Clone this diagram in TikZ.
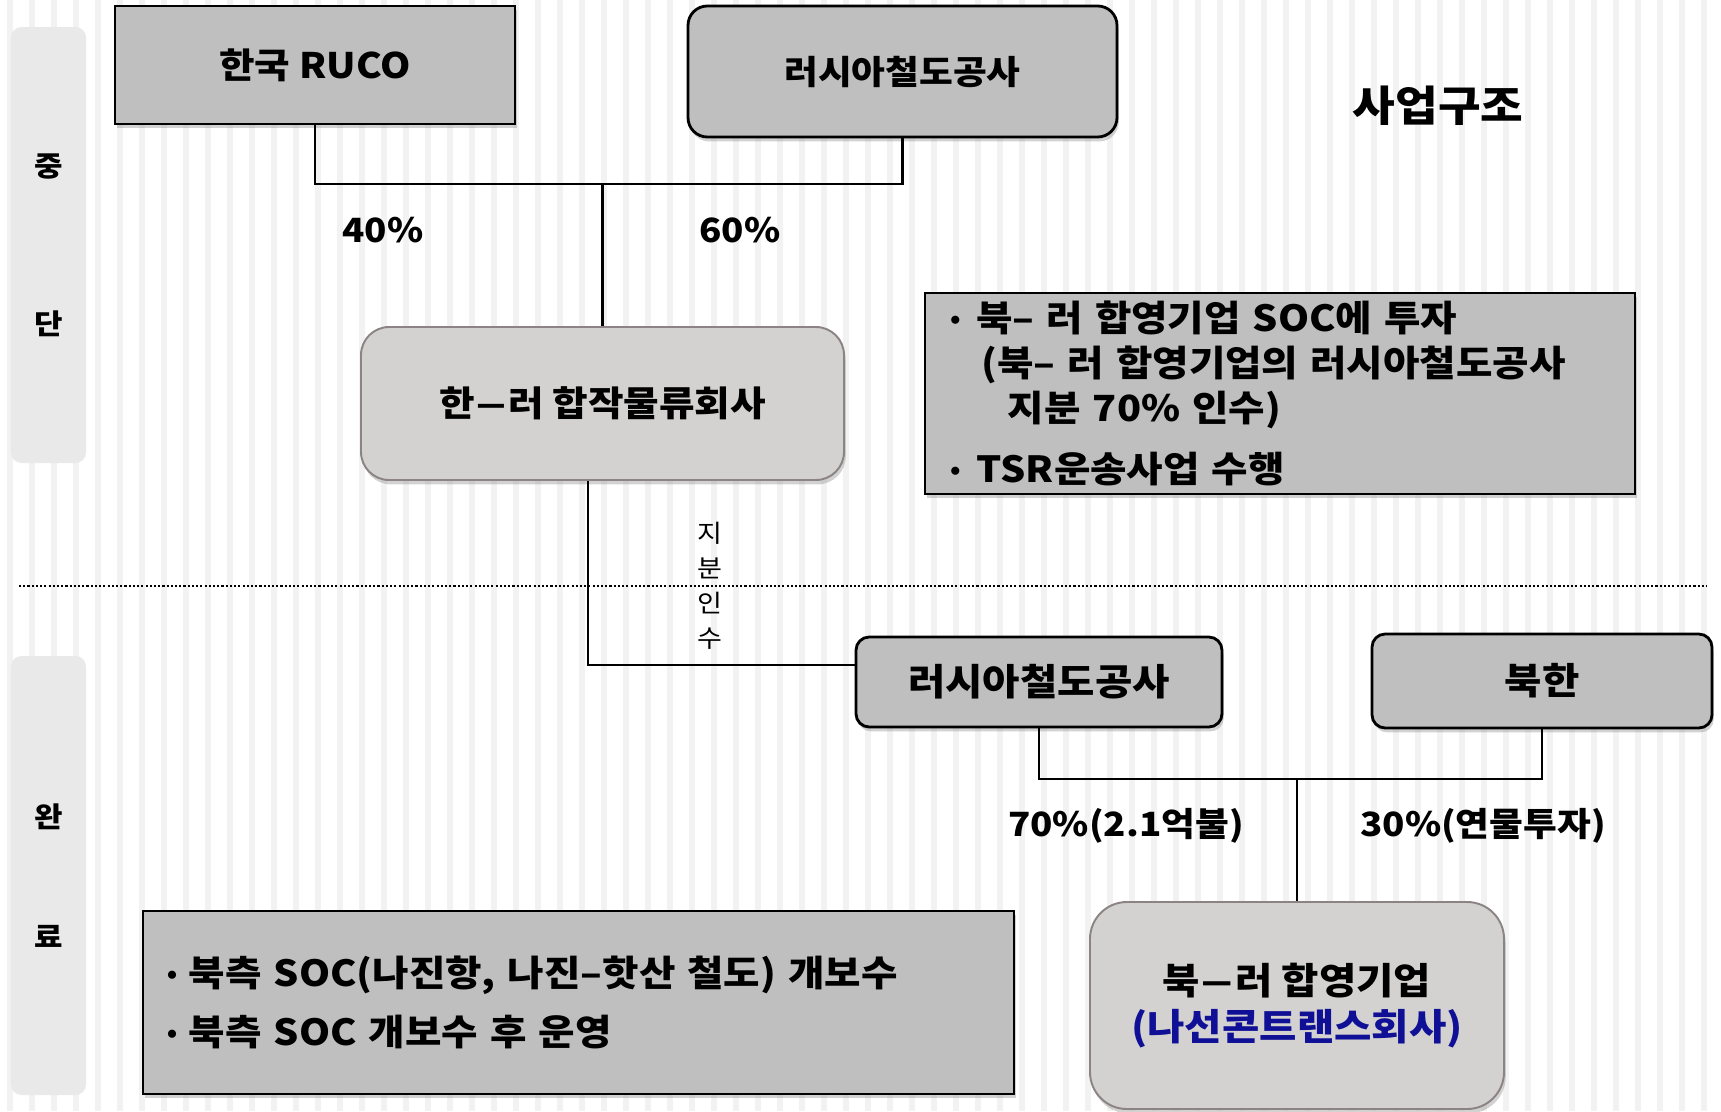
\documentclass[tikz,border=0pt]{standalone}
\usepackage{fontspec}
\setmainfont{Noto Sans CJK KR}[FakeStretch=1.1]
\usepackage{tikz}
\usetikzlibrary{positioning,shadows}

\definecolor{stripegray}{RGB}{242,242,242}
\definecolor{tabgray}{RGB}{233,233,233}
\definecolor{boxgray}{RGB}{191,191,191}
\definecolor{palegray}{RGB}{212,209,209}
\definecolor{paleedge}{RGB}{140,132,132}
\definecolor{navytext}{RGB}{16,16,150}

\newcommand{\lblfont}[1]{\fontsize{#1}{25.6}\selectfont\bfseries}
\newcommand{\dotbul}[1]{\makebox[#1][l]{\raisebox{3.5pt}{\fontsize{12}{12}\selectfont$\bullet$}}}
\newcommand{\wdash}{\kern0.5pt\scalebox{1.5}[1]{–}\kern0.5pt}

\begin{document}
\begin{tikzpicture}[scale=0.2]
    \tikzstyle{every node}+=[inner sep=0pt]
    \tikzstyle{darkbox}=[draw=black, line width=1.6pt, fill=boxgray, font=\lblfont{20}, drop shadow={shadow xshift=1pt, shadow yshift=-2.5pt, opacity=0.35}]
    \tikzstyle{roundbox}=[darkbox, rounded corners=11pt]
    \tikzstyle{palebox}=[draw=paleedge, line width=1.1pt, fill=palegray, font=\lblfont{20}, drop shadow={shadow xshift=1pt, shadow yshift=-2.5pt, opacity=0.35}]
    \tikzstyle{tabbox}=[fill=tabgray, rounded corners=6pt, align=center, font=\fontsize{16}{21}\selectfont\bfseries]
    \tikzstyle{pct}=[font=\fontsize{19}{24}\selectfont\bfseries]
    \tikzstyle{link}=[black, line width=1.5pt]
    % background stripes
    \fill [white] (0,0) rectangle (172.1,-111.1);
    \foreach \k in {0,...,77}
        \fill [stripegray] ({0.73+2.2*\k},0) rectangle ++(0.6,-111.1);
    \useasboundingbox (0,0) rectangle (172.1,-111.1);
    % stage tabs
    \node [tabbox, minimum width=1.5cm, minimum height=8.72cm] (tabmid) at (4.85,-24.5) {중\\[69pt]단};
    \node [tabbox, minimum width=1.5cm, minimum height=8.78cm] (tabdone) at (4.85,-87.55) {완\\[47pt]료};
    % middle stage
    \node [darkbox, minimum width=8cm, minimum height=2.36cm] (ruco) at (31.5,-6.5) {한국 RUCO};
    \node [roundbox, font=\lblfont{19}, minimum width=8.58cm, minimum height=2.62cm] (rzd) at (90.25,-7.15) {러시아철도공사};
    \node [font=\fontsize{24}{28}\selectfont\bfseries] (title) at (143.8,-10.6) {사업구조};
    \node [palebox, rounded corners=16pt, minimum width=9.66cm, minimum height=3.06cm] (hanru) at (60.25,-40.35) {한\wdash 러 합작물류회사};
    \coordinate (j1) at (60.25,-18.4);
    \draw [link] (ruco.south) |- (j1) -| (rzd.south);
    \draw [link] (j1) -- (hanru.north);
    \node [pct] (p40) at (38.3,-23) {40\%};
    \node [pct] (p60) at (74,-23) {60\%};
    \node [darkbox, font=\lblfont{20.5}, minimum width=14.2cm, minimum height=4.02cm, text width=13.2cm, align=left] (invest) at (128,-39.35) {\dotbul{15pt}북– 러 합영기업 SOC에 투자\\
        \hspace*{18pt}(북– 러 합영기업의 러시아철도공사\\
        \hspace*{33pt}지분 70\% 인수)\\[9pt]
        \dotbul{15pt}TSR운송사업 수행};
    % separator
    \coordinate (sepL) at (1.9,-58.6);
    \coordinate (sepR) at (170.7,-58.6);
    \draw [black, line width=1.2pt, dash pattern=on 1.2pt off 1.2pt] (sepL) -- (sepR);
    % completed stage
    \node [roundbox, font=\lblfont{21}, rounded corners=7.5pt, minimum width=7.32cm, minimum height=1.8cm] (rzdb) at (103.9,-68.2) {러시아철도공사};
    \node [roundbox, font=\lblfont{21}, rounded corners=7.5pt, minimum width=6.8cm, minimum height=1.88cm] (nk) at (154.2,-68.1) {북한};
    \coordinate (k1) at (58.8,-66.5);
    \draw [link] (hanru.south -| k1) -- (k1) -- (k1 -| rzdb.west);
    \node [font=\fontsize{14}{20}\selectfont, align=center] (share) at (71,-58.6) {지\\분\\인\\수};
    \node [palebox, font=\lblfont{21}, rounded corners=21pt, minimum width=8.28cm, minimum height=4.14cm, align=center] (jv) at (129.7,-100.55) {북\wdash 러 합영기업\\[1pt]{\color{navytext}(나선콘트랜스회사)}};
    \coordinate (j2) at (129.7,-77.9);
    \draw [link] (rzdb.south) |- (j2) -| (nk.south);
    \draw [link] (j2) -- (jv.north);
    \node [pct] (p70) at (112.6,-82.6) {70\%(2.1억불)};
    \node [pct] (p30) at (148.3,-82.6) {30\%(연물투자)};
    \node [darkbox, font=\lblfont{20.5}, minimum width=17.42cm, minimum height=3.66cm, text width=16.46cm, align=left] (soc) at (57.85,-100.25) {\dotbul{12.5pt}북측 SOC(나진항, 나진–핫산 철도) 개보수\\[8pt]
        \dotbul{12.5pt}북측 SOC 개보수 후 운영};
\end{tikzpicture}
\end{document}
